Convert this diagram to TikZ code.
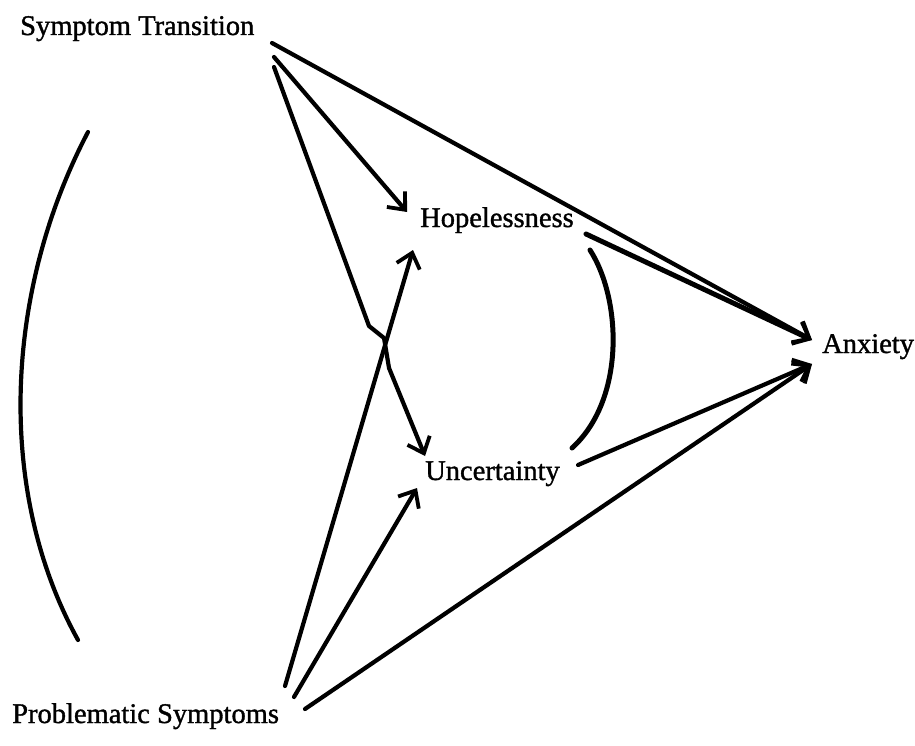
\documentclass[tikz,border=0pt]{standalone}
\usepackage{fontspec}
\newfontfamily\lblfont{Liberation Serif}[BoldFont={Liberation Serif}, BoldFeatures={FakeBold=1.2}]
\usetikzlibrary{arrows.meta}
\tikzset{
  lbl/.style={anchor=base west, inner sep=0pt, font=\lblfont\bfseries\fontsize{28.5}{32}\selectfont},
  conn/.style={line width=4.2pt, line cap=round, line join=round},
  arr/.style={conn, -{Straight Barb[length=14pt,width=24pt,line width=3.8pt]}},
}
\begin{document}
\begin{tikzpicture}[x=1pt,y=-1pt]
\useasboundingbox (0,0) rectangle (915,746);
% labels
\node[lbl] (st) at (20,35) {Symptom Transition};
\node[lbl] (hp) at (420,227) {Hopelessness};
\node[lbl] (un) at (425,480) {Uncertainty};
\node[lbl] (ax) at (822,353) {Anxiety};
\node[lbl] (ps) at (12,723) {Problematic Symptoms};
% endpoints
\coordinate (st1) at (272,43);
\coordinate (st2) at (274,57);
\coordinate (st3) at (274,67);
\coordinate (hpin1) at (407,212);
\coordinate (hpin2) at (413,250);
\coordinate (unin1) at (425,456);
\coordinate (unin2) at (417,488);
\coordinate (axin1) at (812,340);
\coordinate (axin2) at (812,364);
\coordinate (hpout) at (586,234);
\coordinate (unout) at (578,465);
\coordinate (ps1) at (285,686);
\coordinate (ps2) at (294,697);
\coordinate (ps3) at (305,709);
\coordinate (hop1) at (369,326);
\coordinate (hop2) at (384,338);
\coordinate (hop3) at (389,368);
% arrows
\draw[arr] (st1) -- (axin1);
\draw[arr] (st2) -- (hpin1);
\draw[arr] (st3) -- (hop1) -- (hop2) -- (hop3) -- (unin1);
\draw[arr] (ps1) -- (hpin2);
\draw[arr] (ps2) -- (unin2);
\draw[arr] (ps3) -- (axin2);
\draw[arr, line width=5pt] (hpout) -- (axin1);
\draw[arr] (unout) -- (axin2);
% correlations
\coordinate (c1a) at (590,250);
\coordinate (c1b) at (572,448);
\draw[conn, line width=5pt] (c1a) .. controls (622,300) and (625,400) .. (c1b);
\coordinate (c2a) at (88,132);
\coordinate (c2b) at (78,640);
\draw[conn] (c2a) .. controls (5,290) and (-5,490) .. (c2b);
\end{tikzpicture}
\end{document}
